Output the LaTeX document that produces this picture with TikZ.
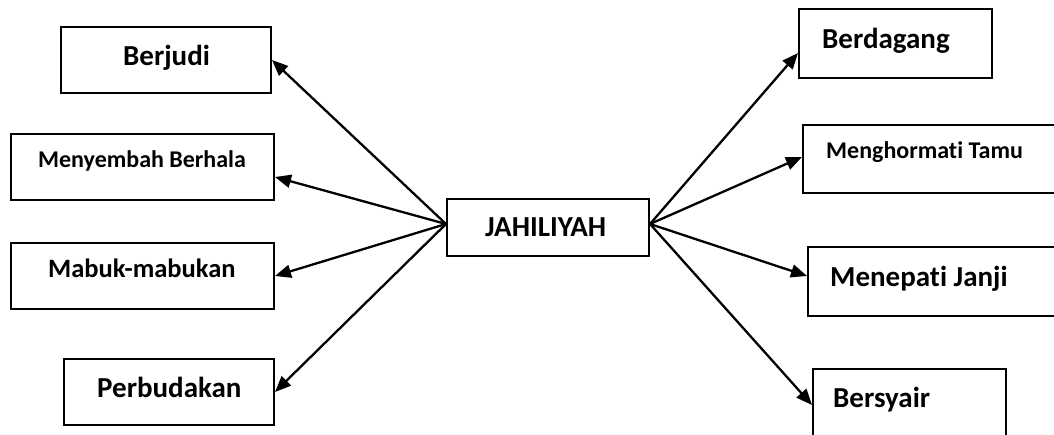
\documentclass[tikz,border=0pt]{standalone}
\usepackage{fontspec}
\setmainfont{Carlito}[Ligatures=NoCommon]
\usetikzlibrary{arrows.meta,calc}
\tikzset{
  box/.style={draw, line width=2pt, inner sep=0pt},
  big/.style={font=\fontsize{29}{34}\selectfont\bfseries, inner sep=0pt, anchor=base west},
  small/.style={font=\fontsize{24}{28}\selectfont\bfseries, inner sep=0pt, anchor=base west},
  mid/.style={font=\fontsize{26.5}{31}\selectfont\bfseries, inner sep=0pt, anchor=base west},
  arr/.style={line width=2.3pt, -{Triangle[length=16pt,width=13pt]}}
}
\begin{document}
\begin{tikzpicture}[x=1pt,y=1pt]
\useasboundingbox (0,0) rectangle (1054,435);
\fill[white] (0,0) rectangle (1054,435);
\clip (0,0) rectangle (1054,435);
% boxes
\node[box, minimum width=210, minimum height=66] (bj)  at (166,375) {};
\node[box, minimum width=263, minimum height=66] (mny) at (142.5,268) {};
\node[box, minimum width=263, minimum height=66] (mbk) at (142.5,159) {};
\node[box, minimum width=210, minimum height=66] (pbd) at (169,43) {};
\node[box, minimum width=202, minimum height=57] (J)   at (548,207.5) {};
\node[box, minimum width=193, minimum height=69] (bdg) at (895.5,391.5) {};
\node[box, minimum width=257, minimum height=68] (mht) at (931.5,276) {};
\node[box, minimum width=252, minimum height=69] (mnp) at (934,153.5) {};
\node[box, minimum width=193, minimum height=76] (bsy) at (909.5,28) {};
% labels
\node[big]   (tbj)  at (123,369) {Berjudi};
\node[small] (tmny) at (38,267)  {Menyembah Berhala};
\node[mid]   (tmbk) at (48,157)  {Mabuk-mabukan};
\node[big]   (tpbd) at (97,37)   {Perbudakan};
\node[big]   (tJ)   at (485,198) {JAHILIYAH};
\node[big]   (tbdg) at (822,386) {Berdagang};
\node[small] (tmht) at (826,276) {Menghormati Tamu};
\node[big]   (tmnp) at (830,148) {Menepati Janji};
\node[big]   (tbsy) at (833,27)  {Bersyair};
% connectors
\coordinate (jw) at ($(J.west)+(0,3.5)$);
\coordinate (je) at ($(J.east)+(0,3.5)$);
\draw[arr] (jw) -- (bj.east);
\draw[arr] (jw) -- ($(mny.east)+(0,-10)$);
\draw[arr] (jw) -- (mbk.east);
\draw[arr] (jw) -- (pbd.east);
\draw[arr] (je) -- ($(bdg.west)+(0,-9.5)$);
\draw[arr] (je) -- ($(mht.west)+(0,2)$);
\draw[arr] (je) -- ($(mnp.west)+(0,5.5)$);
\draw[arr] (je) -- ($(bsy.west)+(0,2)$);
\end{tikzpicture}
\end{document}
